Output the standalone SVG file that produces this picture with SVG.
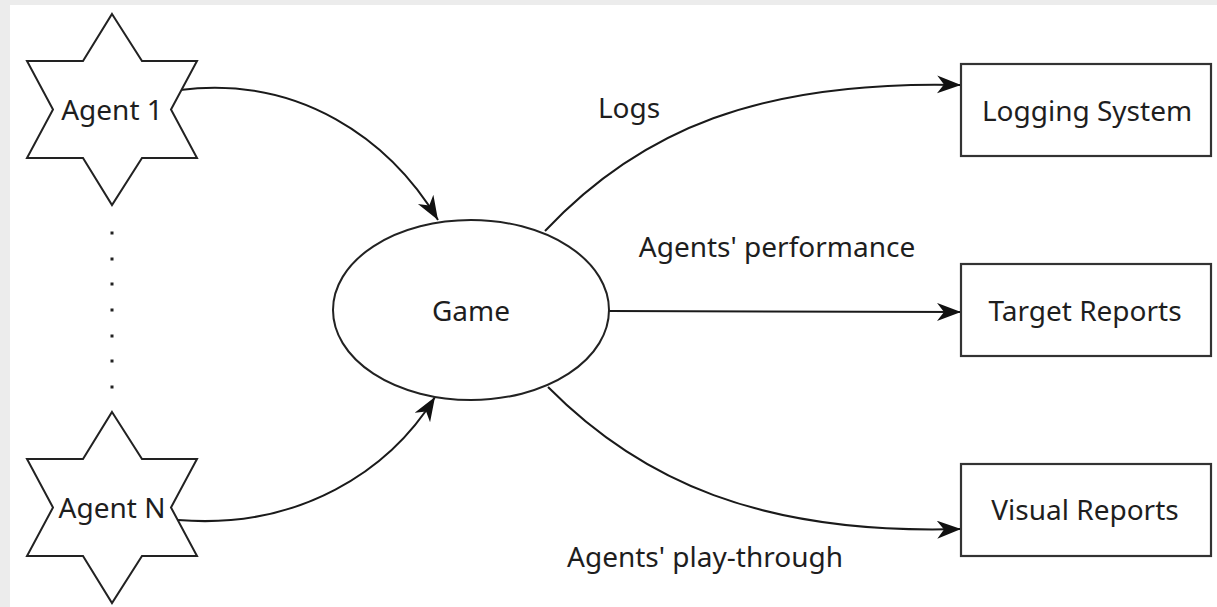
<svg xmlns="http://www.w3.org/2000/svg" xmlns:xlink="http://www.w3.org/1999/xlink" width="1217" height="607" viewBox="0 0 1217 607">
  <style>
    .shape { fill: #ffffff; stroke: #222222; stroke-width: 2; }
    .box { fill: #ffffff; stroke: #333333; stroke-width: 2.2; }
    .label { font-family: "Noto Sans", "DejaVu Sans", sans-serif; font-size: 28px; fill: #1e1e1e; text-anchor: middle; }
    .edge { fill: none; stroke: #1a1a1a; stroke-width: 2; marker-end: url(#arrow); }
    .dot { fill: #222222; }
  </style>
  <defs>
    <marker id="arrow" markerUnits="userSpaceOnUse" markerWidth="26" markerHeight="20" refX="24" refY="9" orient="auto">
      <path d="M0,0 L24,9 L0,18 L7,9 Z" fill="#111111"/>
    </marker>
    <path id="star" d="M112,14 L142,61 L197,61 L171,109.5 L197,158 L142,158 L112,205 L83,158 L27,158 L53,109.5 L27,61 L83,61 Z"/>
  </defs>

  <rect x="0" y="0" width="1217" height="607" fill="#ececec"/>
  <rect x="10" y="5" width="1207" height="602" fill="#ffffff"/>

  <g id="connectors">
    <path class="edge" d="M180,90 C300,75 390,140 438,220"/>
    <path class="edge" d="M178,520 C300,530 390,470 435,397"/>
    <path class="edge" d="M545,231 C640,130 760,80 961,85"/>
    <path class="edge" d="M609,311 L961,312"/>
    <path class="edge" d="M548,387 C640,480 760,535 961,529"/>
  </g>

  <g id="edge-labels">
    <text class="label" x="629" y="118">Logs</text>
    <text class="label" x="777" y="257">Agents' performance</text>
    <text class="label" x="705" y="567">Agents' play-through</text>
  </g>

  <g id="agent1">
    <use xlink:href="#star" class="shape"/>
    <text class="label" x="112" y="120">Agent 1</text>
  </g>

  <g id="ellipsis">
    <rect class="dot" x="110.5" y="231.5" width="3" height="3"/>
    <rect class="dot" x="110.5" y="257.5" width="3" height="3"/>
    <rect class="dot" x="110.5" y="282.5" width="3" height="3"/>
    <rect class="dot" x="110.5" y="308.5" width="3" height="3"/>
    <rect class="dot" x="110.5" y="334.5" width="3" height="3"/>
    <rect class="dot" x="110.5" y="359.5" width="3" height="3"/>
    <rect class="dot" x="110.5" y="385.5" width="3" height="3"/>
  </g>

  <g id="agentN">
    <use xlink:href="#star" class="shape" transform="translate(0,398)"/>
    <text class="label" x="112" y="518">Agent N</text>
  </g>

  <g id="game">
    <ellipse class="shape" cx="471" cy="310" rx="138" ry="90"/>
    <text class="label" x="471" y="321">Game</text>
  </g>

  <g id="logging-system">
    <rect class="box" x="961" y="64" width="250" height="92"/>
    <text class="label" x="1087" y="121">Logging System</text>
  </g>

  <g id="target-reports">
    <rect class="box" x="961" y="264" width="250" height="92"/>
    <text class="label" x="1085" y="321">Target Reports</text>
  </g>

  <g id="visual-reports">
    <rect class="box" x="961" y="464" width="250" height="92"/>
    <text class="label" x="1085" y="520">Visual Reports</text>
  </g>
</svg>
